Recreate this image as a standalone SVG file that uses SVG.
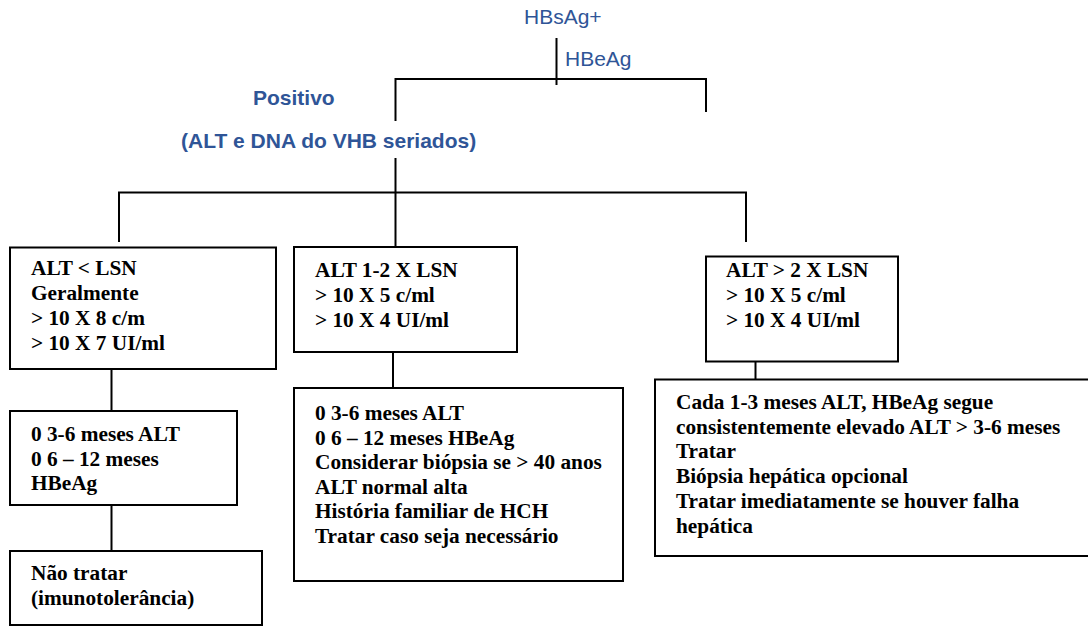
<svg xmlns="http://www.w3.org/2000/svg" width="1088" height="626" viewBox="0 0 1088 626">
<style>
.bx{fill:#fff;stroke:#000;stroke-width:2}
.ln{fill:none;stroke:#000;stroke-width:2}
.t{font-family:"Liberation Serif","Times New Roman",serif;font-weight:bold;font-size:21.3px;fill:#000}
.b{font-family:"Liberation Sans",Arial,sans-serif;font-size:21px;fill:#2F5597}
.bb{font-family:"Liberation Sans",Arial,sans-serif;font-size:21px;font-weight:bold;fill:#2F5597}
</style>
<rect width="1088" height="626" fill="#fff"/>
<g id="connectors">
<path class="ln" d="M556.5 38V85"/>
<path class="ln" d="M395.5 121V79H706V112"/>
<path class="ln" d="M395.5 158V192.5"/>
<path class="ln" d="M119 242V192.5H746V242"/>
<path class="ln" d="M395.5 192.5V247"/>
<path class="ln" d="M111.5 369V411"/>
<path class="ln" d="M111.5 505V551"/>
<path class="ln" d="M393 352V388"/>
<path class="ln" d="M755.5 362V380"/>
</g>
<g id="labels">
<text class="b" x="524" y="24">HBsAg+</text>
<text class="b" x="565" y="66">HBeAg</text>
<text class="bb" x="253" y="105">Positivo</text>
<text class="bb" x="181" y="148">(ALT e DNA do VHB seriados)</text>
</g>
<g id="n1">
<rect class="bx" x="10" y="247.5" width="266" height="121.5"/>
<text class="t" x="31"><tspan x="31" y="275">ALT &lt; LSN</tspan><tspan x="31" y="300">Geralmente</tspan><tspan x="31" y="325">&gt; 10 X 8 c/m</tspan><tspan x="31" y="350">&gt; 10 X 7 UI/ml</tspan></text>
</g>
<g id="n2">
<rect class="bx" x="294" y="247" width="223" height="105"/>
<text class="t"><tspan x="315" y="277">ALT 1-2 X LSN</tspan><tspan x="315" y="302">&gt; 10 X 5 c/ml</tspan><tspan x="315" y="327">&gt; 10 X 4 UI/ml</tspan></text>
</g>
<g id="n3">
<rect class="bx" x="706" y="256.5" width="192" height="105"/>
<text class="t"><tspan x="726" y="277">ALT &gt; 2 X LSN</tspan><tspan x="726" y="302">&gt; 10 X 5 c/ml</tspan><tspan x="726" y="327">&gt; 10 X 4 UI/ml</tspan></text>
</g>
<g id="n4">
<rect class="bx" x="10" y="411" width="227" height="94"/>
<text class="t"><tspan x="31" y="441">0 3-6 meses ALT</tspan><tspan x="31" y="465.5">0 6 – 12 meses</tspan><tspan x="31" y="490">HBeAg</tspan></text>
</g>
<g id="n5">
<rect class="bx" x="10" y="551" width="252" height="74"/>
<text class="t"><tspan x="31" y="580">Não tratar</tspan><tspan x="31" y="605">(imunotolerância)</tspan></text>
</g>
<g id="n6">
<rect class="bx" x="294" y="388" width="329" height="193"/>
<text class="t"><tspan x="315" y="420">0 3-6 meses ALT</tspan><tspan x="315" y="444.5">0 6 – 12 meses HBeAg</tspan><tspan x="315" y="469">Considerar biópsia se &gt; 40 anos</tspan><tspan x="315" y="493.5">ALT normal alta</tspan><tspan x="315" y="518">História familiar de HCH</tspan><tspan x="315" y="542.5">Tratar caso seja necessário</tspan></text>
</g>
<g id="n7">
<rect class="bx" x="655" y="379.5" width="445" height="176.5"/>
<text class="t"><tspan x="676" y="409">Cada 1-3 meses ALT, HBeAg segue</tspan><tspan x="676" y="434">consistentemente elevado ALT &gt; 3-6 meses</tspan><tspan x="676" y="458">Tratar</tspan><tspan x="676" y="483">Biópsia hepática opcional</tspan><tspan x="676" y="507.5">Tratar imediatamente se houver falha</tspan><tspan x="676" y="532.5">hepática</tspan></text>
</g>
</svg>
